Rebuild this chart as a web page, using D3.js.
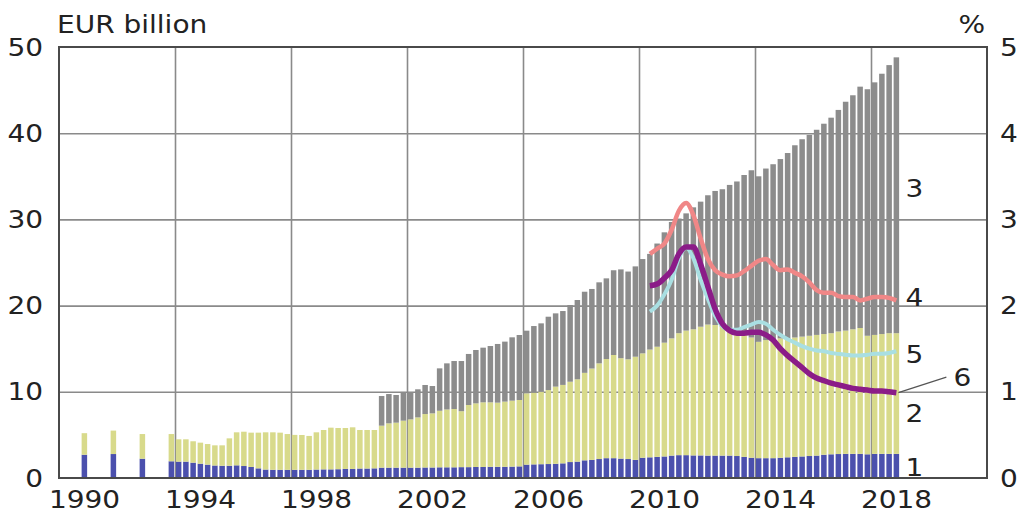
<!DOCTYPE html>
<html><head><meta charset="utf-8">
<script src="https://cdn.jsdelivr.net/npm/d3@7"></script>
<style>
body{margin:0;background:#fff}
svg text{font-family:"DejaVu Sans",Verdana,sans-serif;fill:#222}
</style>
</head><body>
<svg id="chart" width="1030" height="524"></svg>
<script>
// ---- categories: annual observations (Q4) for 1990-1992, then quarterly ----
const annualYears = [1990, 1991, 1992];
const quarterlyStart = "1993Q4";
const quarterlyEnd = "2018Q4";
const categories = [];
annualYears.forEach(y => categories.push(y + "Q4"));
for (let y = 1993; y <= 2018; y++) for (let q = 1; q <= 4; q++) {
  const c = y + "Q" + q;
  if (c >= quarterlyStart && c <= quarterlyEnd) categories.push(c);
}

// ---- series (EUR billion), stacked ----
// 1: blue segment
const series1 = [2.7,2.78,2.24,1.94,
 1.9,1.9,1.78,1.66, 1.55,1.45,1.42,1.42, 1.47,1.39,1.28,1.12, 0.98,0.95,0.95,0.95,
 0.95,0.95,0.95,0.98, 1.0,1.0,1.02,1.05, 1.05,1.1,1.1,1.12, 1.2,1.2,1.2,1.2,
 1.2,1.2,1.22,1.22, 1.24,1.24,1.24,1.26, 1.26,1.28,1.28,1.3, 1.3,1.3,1.32,1.35,
 1.55,1.58,1.6,1.62, 1.65,1.7,1.85,1.9, 2.05,2.1,2.2,2.3, 2.3,2.25,2.2,2.1,
 2.35,2.4,2.45,2.5, 2.6,2.65,2.65,2.62, 2.62,2.6,2.6,2.6, 2.6,2.55,2.45,2.35,
 2.3,2.3,2.3,2.35, 2.4,2.45,2.5,2.55, 2.6,2.7,2.75,2.78, 2.8,2.8,2.8,2.75,
 2.8,2.8,2.8,2.8];
// 2: yellow-green segment
const series2 = [2.5,2.72,2.86,3.16,
 2.59,2.59,2.48,2.44, 2.39,2.34,2.37,3.18, 3.83,3.98,3.98,4.14, 4.32,4.35,4.31,4.15,
 4.05,4.04,3.93,4.32, 4.57,4.84,4.78,4.75, 4.83,4.47,4.47,4.45, 4.87,5.14,5.22,5.45,
 5.6,5.83,6.2,6.28, 6.56,6.71,6.76,6.49, 7.21,7.38,7.5,7.48, 7.44,7.56,7.65,7.7,
 8.27,8.32,8.4,8.58, 8.95,9.1,9.32,9.55, 10.15,10.6,11.1,11.5, 11.97,11.65,11.57,11.97,
 12.11,12.5,12.78,13.2, 13.6,14.15,14.45,14.63, 14.93,15.2,15.15,14.95, 14.77,14.82,14.55,13.95,
 13.5,13.7,13.8,13.85, 13.7,13.85,13.9,13.95, 14.0,14.0,14.05,14.22, 14.3,14.45,14.6,13.75,
 13.8,13.9,14.0,14.0];
// 3: grey segment
const series3 = [0,0,0,0,
 0,0,0,0, 0,0,0,0, 0,0,0,0, 0,0,0,0,
 0,0,0,0, 0,0,0,0, 0,0,0,0, 3.44,3.4,3.21,3.33,
 3.18,3.26,3.37,3.17, 4.92,5.35,5.57,5.82, 5.92,6.19,6.34,6.53, 6.81,6.96,7.35,7.54,
 7.27,7.73,7.94,8.51, 8.5,8.57,8.9,9.2, 9.41,9.23,9.4,9.36, 9.83,10.3,10.18,10.48,
 10.94,11.1,11.97,12.8, 13.5,13.3,13.6,14.15, 14.51,15.0,15.55,15.95, 16.63,17.03,18.15,19.4,
 19.2,19.9,20.3,20.8, 21.6,22.3,22.9,23.3, 23.8,24.4,25.0,25.7, 26.55,27.15,28.0,28.6,
 29.3,30.2,31.1,32.0];

// ---- lines (%), right axis, quarterly from 2010Q2 ----
const lineStart = "2010Q2";
const series4 = [2.6,2.66,2.72,2.88,3.1,3.19,3.05,2.78,2.54,2.41,2.36,2.34,2.35,2.4,2.46,2.52,
 2.54,2.47,2.41,2.42,2.38,2.34,2.27,2.18,2.15,2.15,2.11,2.1,2.1,2.06,2.08,2.1,2.1,2.09,2.06];
const series5 = [1.93,2.0,2.13,2.3,2.55,2.67,2.55,2.3,2.08,1.88,1.76,1.72,1.72,1.75,1.78,1.81,
 1.79,1.72,1.66,1.61,1.57,1.53,1.5,1.48,1.47,1.45,1.44,1.43,1.42,1.42,1.43,1.44,1.44,1.45,1.47];
const series6 = [2.23,2.25,2.32,2.41,2.6,2.68,2.68,2.48,2.22,1.96,1.79,1.71,1.68,1.68,1.69,1.69,
 1.66,1.6,1.5,1.42,1.35,1.28,1.21,1.16,1.13,1.1,1.08,1.06,1.04,1.03,1.02,1.01,1.01,1.0,0.99];

const leftTicks = [0,10,20,30,40,50];
const rightTicks = [0,1,2,3,4,5];
const yearTicks = [1990,1994,1998,2002,2006,2010,2014,2018];

const colors = {s1:"#4b50ad", s2:"#d8da8b", s3:"#8c8c8c", s4:"#f08787", s5:"#a9dfe2", s6:"#8b1c88"};

// ---- layout ----
const svg = d3.select("#chart");
const L = 59, R = 987, T = 47, B = 478;
const SX = 1.12; // horizontal stretch of the lettering
const x = d3.scaleLinear().domain([1990, 2022]).range([L, R]);
const y = d3.scaleLinear().domain([0, 50]).range([B, T]);
const yR = d3.scaleLinear().domain([0, 5]).range([B, T]);
const tOf = c => +c.slice(0,4) + (+c.slice(5)) * 0.25 - 0.125;

// gridlines
const g = svg.append("g");
g.append("g").attr("transform", `translate(0,${B})`)
  .call(d3.axisBottom(x).tickValues(yearTicks.slice(1)).tickSize(-(B-T)).tickFormat(""))
  .call(s => { s.select(".domain").remove(); s.selectAll("line").attr("stroke","#8a8a8a").attr("stroke-width",1.6); });
g.append("g").attr("transform", `translate(${L},0)`)
  .call(d3.axisLeft(y).tickValues([10,20,30,40]).tickSize(-(R-L)).tickFormat(""))
  .call(s => { s.select(".domain").remove(); s.selectAll("line").attr("stroke","#8a8a8a").attr("stroke-width",1.6); });

// bars
const rows = categories.map((c,i) => ({c, s1:series1[i], s2:series2[i], s3:series3[i]}));
const stacked = d3.stack().keys(["s1","s2","s3"])(rows);
const bw = 0.19;
svg.append("g").selectAll("g").data(stacked).join("g")
  .attr("fill", d => colors[d.key])
  .selectAll("rect").data(d => d.filter(p => p[1] - p[0] > 0)).join("rect")
  .attr("x", d => x(tOf(d.data.c) - bw/2))
  .attr("width", d => x(tOf(d.data.c) + bw/2) - x(tOf(d.data.c) - bw/2))
  .attr("y", d => y(d[1]))
  .attr("height", d => y(d[0]) - y(d[1]));

// frame
svg.append("rect").attr("x", L).attr("y", T).attr("width", R-L).attr("height", B-T)
  .attr("fill","none").attr("stroke","#4a4a4a").attr("stroke-width",2);

// lines
const i0 = categories.indexOf(lineStart);
const line = d3.line().x((d,i) => x(tOf(categories[i0+i]))).y(d => yR(d)).curve(d3.curveMonotoneX);
[["s5",series5,4],["s4",series4,4.5],["s6",series6,5.5]].forEach(([k,arr,w]) => {
  svg.append("path").datum(arr).attr("d", line).attr("fill","none")
    .attr("stroke", colors[k]).attr("stroke-width", w).attr("stroke-linejoin","round");
});

// axes labels
const fs = 25;
svg.append("g").attr("transform", `translate(${L},0)`)
  .call(d3.axisLeft(y).tickValues(leftTicks).tickSize(0).tickPadding(16))
  .call(s => { s.select(".domain").remove();
    s.selectAll("text").attr("font-size", fs).attr("font-family", null)
     .attr("x", -16/SX).attr("transform", `scale(${SX},1)`); });
svg.append("g").attr("transform", `translate(${R},0)`)
  .call(d3.axisRight(yR).tickValues(rightTicks).tickSize(0).tickPadding(13).tickFormat(d3.format("d")))
  .call(s => { s.select(".domain").remove();
    s.selectAll("text").attr("font-size", fs).attr("font-family", null)
     .attr("x", 13/SX).attr("transform", `scale(${SX},1)`); });
svg.append("g").attr("transform", `translate(0,${B})`)
  .call(d3.axisBottom(x).tickValues(yearTicks).tickSize(0).tickPadding(12).tickFormat(d3.format("d")))
  .call(s => { s.select(".domain").remove();
    s.selectAll("text").attr("font-size", fs).attr("font-family", null)
     .attr("dx", 25/SX).attr("transform", `scale(${SX},1)`); });

function label(t, px, py, anchor, dy) {
  return svg.append("text").attr("transform", `translate(${px},${py}) scale(${SX},1)`)
    .attr("font-size", fs).attr("text-anchor", anchor || "start").attr("dy", dy || 0).text(t);
}
label("EUR billion", 57, 33);
label("%", 985, 33, "end");

// series labels
const lastX = x(tOf(categories[categories.length-1]));
[["3", y(33.6)], ["4", y(21.0)], ["5", y(14.3)], ["2", y(7.5)], ["1", y(1.3)]]
  .forEach(([t,yy]) => label(t, lastX + 9, yy, "start", "0.35em"));
svg.append("line").attr("x1", lastX + 2).attr("y1", yR(series6[series6.length-1]))
  .attr("x2", lastX + 50).attr("y2", yR(1.17)).attr("stroke","#555").attr("stroke-width",1.2);
label("6", lastX + 57, yR(1.17), "start", "0.35em");
</script>
</body></html>
